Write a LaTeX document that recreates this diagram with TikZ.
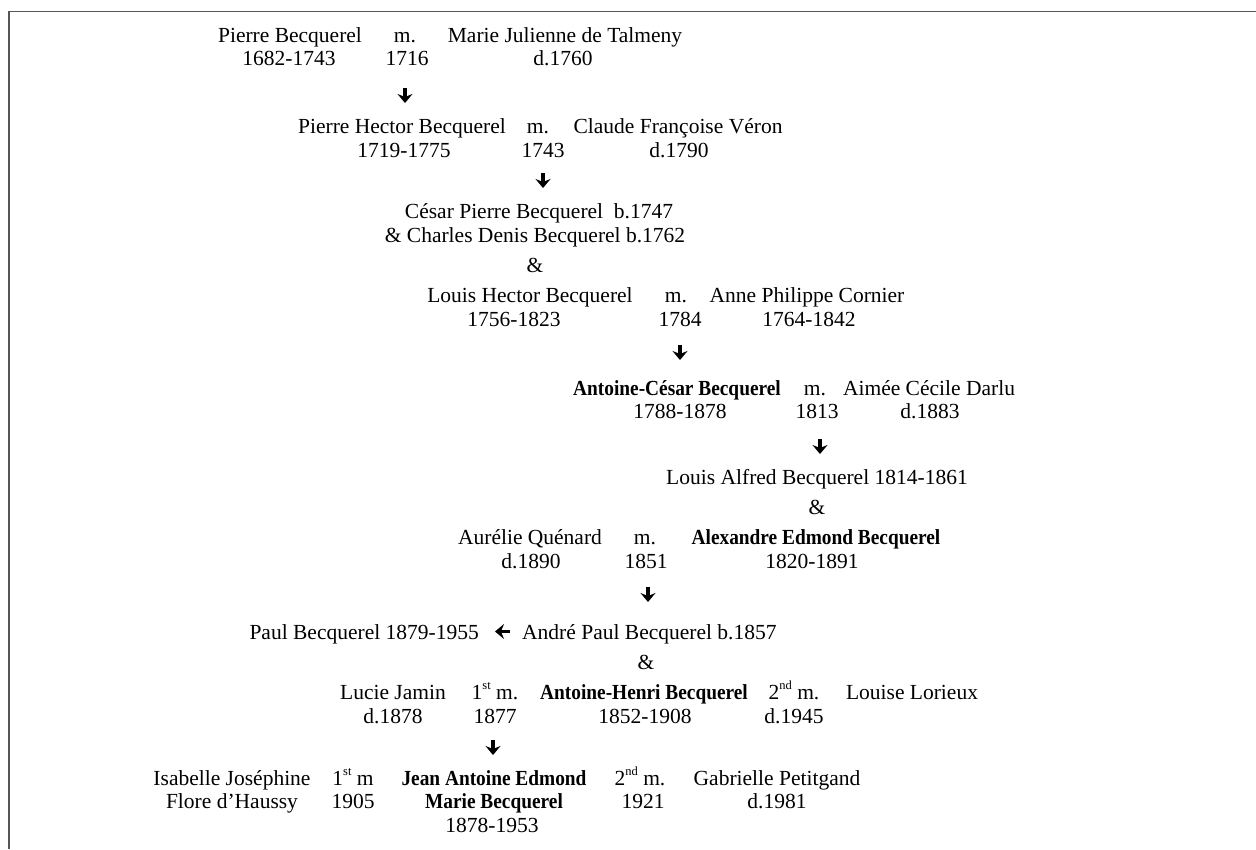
\documentclass[tikz,border=0pt]{standalone}
\usepackage{fontspec}
\setmainfont{Liberation Serif}[BoldFeatures={FakeStretch=0.9}]
\usetikzlibrary{arrows.meta}
\definecolor{framegray}{RGB}{85,85,85}
\newcommand{\supr}[1]{\raisebox{0.42em}{\fontsize{12.5}{13}\selectfont #1}}
\begin{document}
\begin{tikzpicture}[x=1pt,y=1pt,
  txt/.style={anchor=base,inner sep=0pt,font=\fontsize{21.5}{24}\selectfont},
  bx/.style={txt,font=\fontsize{21.5}{24}\selectfont\bfseries},
  bigarrow/.style={line width=3.6pt,-{Stealth[length=9pt,width=15pt,inset=3pt]}},
  frameline/.style={draw=framegray,line width=1.5pt}]
\useasboundingbox (0,0) rectangle (1256,-849);
\draw[frameline] (1256,-11.5) -- (9,-11.5) -- (9,-849);
% Row 1-2
\node[txt] (pb)   at (290,-42) {Pierre Becquerel};
\node[txt] (m1)   at (405,-42) {m.};
\node[txt] (mjt)  at (565,-42) {Marie Julienne de Talmeny};
\node[txt] (pbd)  at (289,-65) {1682-1743};
\node[txt] (m1y)  at (407,-65) {1716};
\node[txt] (mjtd) at (563,-65) {d.1760};
\coordinate (a1s) at (405,-88); \coordinate (a1e) at (405,-103);
\draw[bigarrow] (a1s) -- (a1e);
% Row 3-4
\node[txt] (phb)  at (402,-133) {Pierre Hector Becquerel};
\node[txt] (m2)   at (538,-133) {m.};
\node[txt] (cfv)  at (678,-133) {Claude Françoise Véron};
\node[txt] (phbd) at (404,-157) {1719-1775};
\node[txt] (m2y)  at (543,-157) {1743};
\node[txt] (cfvd) at (679,-157) {d.1790};
\coordinate (a2s) at (543,-173); \coordinate (a2e) at (543,-188);
\draw[bigarrow] (a2s) -- (a2e);
% Row 5-7
\node[txt] (cpb)  at (539,-218) {César Pierre Becquerel~ b.1747};
\node[txt] (cdb)  at (535,-242) {\& Charles Denis Becquerel b.1762};
\node[txt] (amp1) at (535,-272) {\&};
% Row 8-9
\node[txt] (lhb)  at (530,-302) {Louis Hector Becquerel};
\node[txt] (m3)   at (676,-302) {m.};
\node[txt] (apc)  at (807,-302) {Anne Philippe Cornier};
\node[txt] (lhbd) at (514,-326) {1756-1823};
\node[txt] (m3y)  at (680,-326) {1784};
\node[txt] (apcd) at (809,-326) {1764-1842};
\coordinate (a3s) at (680,-345); \coordinate (a3e) at (680,-360);
\draw[bigarrow] (a3s) -- (a3e);
% Row 10-11
\node[bx]  (acb)  at (677,-395) {Antoine-César Becquerel};
\node[txt] (m4)   at (815,-395) {m.};
\node[txt] (acd)  at (929,-395) {Aimée Cécile Darlu};
\node[txt] (acbd) at (680,-418) {1788-1878};
\node[txt] (m4y)  at (817,-418) {1813};
\node[txt] (acdd) at (930,-418) {d.1883};
\coordinate (a4s) at (820,-439); \coordinate (a4e) at (820,-454);
\draw[bigarrow] (a4s) -- (a4e);
% Row 12-13
\node[txt] (lab)  at (817,-484) {Louis Alfred Becquerel 1814-1861};
\node[txt] (amp2) at (817,-514) {\&};
% Row 14-15
\node[txt] (aq)   at (530,-544) {Aurélie Quénard};
\node[txt] (m5)   at (645,-544) {m.};
\node[bx]  (aeb)  at (816,-544) {Alexandre Edmond Becquerel};
\node[txt] (aqd)  at (531,-568) {d.1890};
\node[txt] (m5y)  at (646,-568) {1851};
\node[txt] (aebd) at (812,-568) {1820-1891};
\coordinate (a5s) at (648,-587); \coordinate (a5e) at (648,-602);
\draw[bigarrow] (a5s) -- (a5e);
% Row 16-17
\node[txt,anchor=base east] (paul) at (479,-639) {Paul Becquerel 1879-1955};
\node[txt,anchor=base west] (apb)  at (522,-639) {André Paul Becquerel b.1857};
\coordinate (a7s) at (510,-631.5); \coordinate (a7e) at (495,-631.5);
\draw[bigarrow] (a7s) -- (a7e);
\node[txt] (amp3) at (646,-669) {\&};
% Row 18-19
\node[txt] (lj)   at (393,-699) {Lucie Jamin};
\node[txt] (m6)   at (495,-699) {1\supr{st} m.};
\node[bx]  (ahb)  at (644,-699) {Antoine-Henri Becquerel};
\node[txt] (m7)   at (794,-699) {2\supr{nd} m.};
\node[txt] (ll)   at (912,-699) {Louise Lorieux};
\node[txt] (ljd)  at (393,-723) {d.1878};
\node[txt] (m6y)  at (495,-723) {1877};
\node[txt] (ahbd) at (645,-723) {1852-1908};
\node[txt] (lld)  at (794,-723) {d.1945};
\coordinate (a6s) at (493,-740); \coordinate (a6e) at (493,-755);
\draw[bigarrow] (a6s) -- (a6e);
% Row 20-22
\node[txt] (ij)   at (232,-785) {Isabelle Joséphine};
\node[txt] (m8)   at (353,-785) {1\supr{st} m};
\node[bx]  (jae)  at (494,-785) {Jean Antoine Edmond};
\node[txt] (m9)   at (640,-785) {2\supr{nd} m.};
\node[txt] (gp)   at (777,-785) {Gabrielle Petitgand};
\node[txt] (fh)   at (232,-808) {Flore d’Haussy};
\node[txt] (m8y)  at (353,-808) {1905};
\node[bx]  (mb)   at (494,-808) {Marie Becquerel};
\node[txt] (m9y)  at (643,-808) {1921};
\node[txt] (gpd)  at (777,-808) {d.1981};
\node[txt] (jaed) at (492,-832) {1878-1953};
\end{tikzpicture}
\end{document}
